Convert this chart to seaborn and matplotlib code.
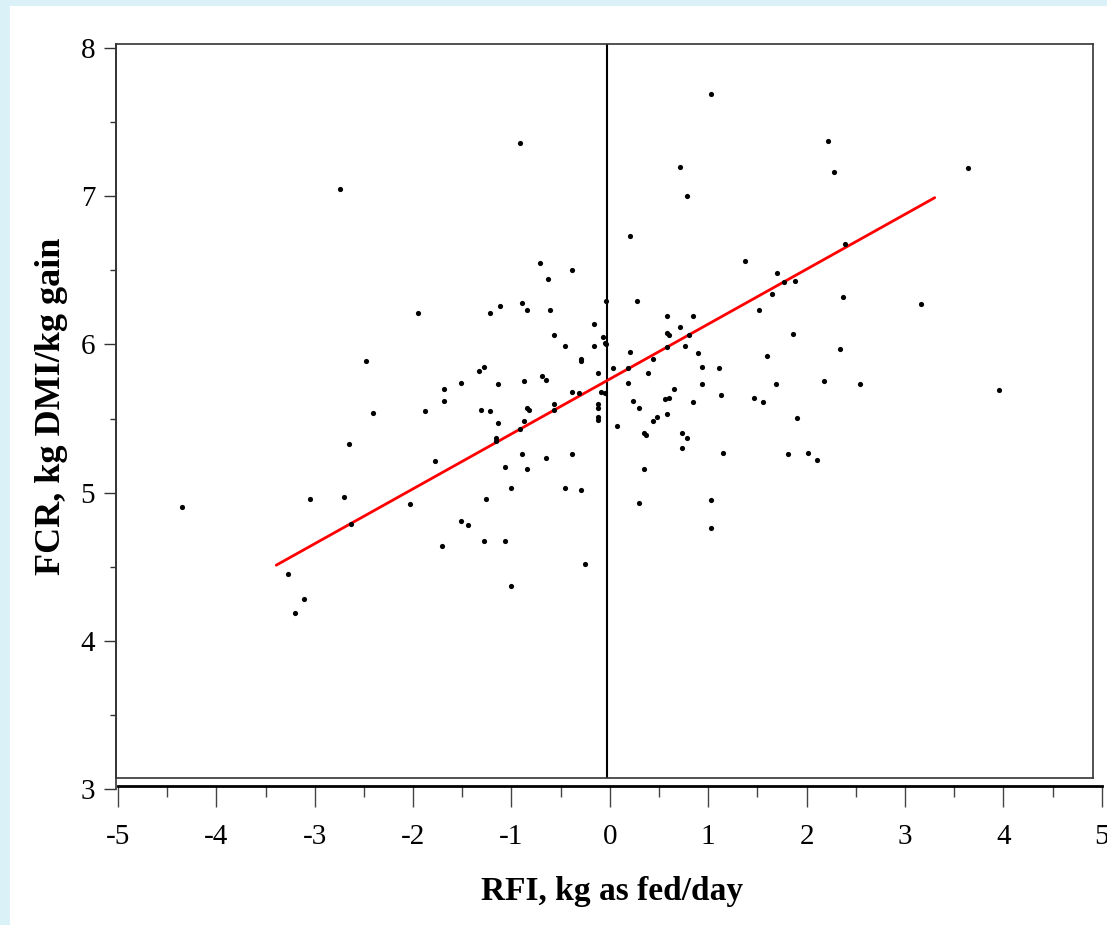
import numpy as np
import pandas as pd
import matplotlib
matplotlib.use("Agg")
import matplotlib.pyplot as plt
from matplotlib.patches import Rectangle
from matplotlib.ticker import MultipleLocator
import seaborn as sns

# ---- data ----
rfi = [
    -2.72, -0.89, -0.69, -0.36, -0.60, -0.01, -1.93, -1.20, -1.09, -0.87, -0.82, -0.58,
    -0.14, -0.54, -0.05, -0.43, -0.14, -0.03, -0.01,
    -2.46, -1.26, -1.31, -0.27, -0.27, -0.67, -0.63, -0.10, -1.49, -1.11, -0.85, -1.66,
    -1.66, -0.36, -0.29, -0.07, -0.03, -2.39, -1.86, -1.29, -1.20, -0.82, -0.80, -0.54,
    -0.54, -0.10, -0.10, -0.10, -0.10, -1.11, -0.85, -0.89, -1.13, -1.13, -2.63, -1.75,
    -0.87, -0.63, -0.36, -1.04, -0.82, -0.98, -0.43, -0.27, -4.33, -3.03, -2.68, -2.01,
    -1.24, -2.61, -1.49, -1.42, -1.68, -1.26, -1.04, -0.23, -3.25, -3.09, -3.18, -0.98,
    1.05, 2.24, 3.67, 0.74, 2.31, 0.81, 0.23, 2.42, 1.40, 1.73, 1.80, 1.91, 1.67, 2.40,
    3.19, 0.30, 1.54, 0.61, 0.87, 0.74, 1.89, 0.61, 0.63, 0.83, 0.79, 0.61, 2.37,
    0.23, 0.92, 1.62, 0.46, 0.06, 0.21, 0.96, 1.14, 0.41, 0.21, 0.96, 1.71, 2.20, 2.57,
    3.98, 0.68, 1.16, 0.59, 0.63, 0.26, 0.87, 1.49, 1.58, 0.32, 0.61, 0.50, 0.46, 1.93,
    0.10, 0.37, 0.39, 0.76, 0.81, 0.76, 1.18, 1.84, 2.04, 2.13, 0.37, 1.05, 0.32, 1.05,
]
fcr = [
    7.05, 7.36, 6.55, 6.50, 6.44, 6.29, 6.21, 6.21, 6.26, 6.28, 6.23, 6.23,
    6.14, 6.06, 6.05, 5.99, 5.99, 6.01, 6.00,
    5.89, 5.85, 5.82, 5.90, 5.89, 5.79, 5.76, 5.81, 5.74, 5.73, 5.75, 5.70,
    5.62, 5.68, 5.67, 5.68, 5.67, 5.54, 5.55, 5.56, 5.55, 5.57, 5.56, 5.60,
    5.56, 5.60, 5.57, 5.51, 5.49, 5.47, 5.48, 5.43, 5.37, 5.35, 5.33, 5.21,
    5.26, 5.23, 5.26, 5.17, 5.16, 5.03, 5.03, 5.02, 4.90, 4.96, 4.97, 4.92,
    4.96, 4.79, 4.81, 4.78, 4.64, 4.67, 4.67, 4.52, 4.45, 4.28, 4.19, 4.37,
    7.69, 7.37, 7.19, 7.20, 7.16, 7.00, 6.73, 6.68, 6.56, 6.48, 6.42, 6.43, 6.34, 6.32,
    6.27, 6.29, 6.23, 6.19, 6.19, 6.12, 6.07, 6.08, 6.06, 6.06, 5.99, 5.98, 5.97,
    5.95, 5.94, 5.92, 5.90, 5.84, 5.84, 5.85, 5.84, 5.81, 5.74, 5.73, 5.73, 5.75, 5.73,
    5.69, 5.70, 5.66, 5.63, 5.64, 5.62, 5.61, 5.64, 5.61, 5.57, 5.53, 5.51, 5.48, 5.50,
    5.45, 5.40, 5.39, 5.40, 5.37, 5.30, 5.27, 5.26, 5.27, 5.22, 5.16, 4.95, 4.93, 4.76,
]
fit_x = [-3.37, 3.33]
fit_y = [4.51, 6.99]

x_ticks = [-5, -4, -3, -2, -1, 0, 1, 2, 3, 4, 5]
y_ticks = [3, 4, 5, 6, 7, 8]
x_label = "RFI, kg as fed/day"
y_label = "FCR, kg DMI/kg gain"

df = pd.DataFrame({"RFI": rfi, "FCR": fcr})
fit_df = pd.DataFrame({"RFI": fit_x, "FCR": fit_y})

sns.set_theme(style="white")
plt.rcParams["font.family"] = ["Liberation Serif", "DejaVu Serif"]
plt.rcParams["text.color"] = "black"
plt.rcParams["axes.labelcolor"] = "black"
plt.rcParams["xtick.labelcolor"] = "black"
plt.rcParams["ytick.labelcolor"] = "black"

W, H = 1107, 925
fig = plt.figure(figsize=(W / 100, H / 100), dpi=100, facecolor="white")

# light blue frame at left and top edges
fig.patches.append(Rectangle((0, 0), 10 / W, 1, transform=fig.transFigure,
                             facecolor="#daf1f8", edgecolor="none", zorder=0))
fig.patches.append(Rectangle((0, 1 - 6 / H), 1, 6 / H, transform=fig.transFigure,
                             facecolor="#daf1f8", edgecolor="none", zorder=0))

def fx(px):
    return px / W

def fy(py):
    return (H - py) / H

# main boxed plotting area
ax = fig.add_axes([fx(116), fy(778), fx(1093) - fx(116), fy(44) - fy(778)])
ax.set_xlim(-5.0, 4.94)
ax.set_ylim(3.074, 8.027)
ax.set_facecolor("white")
for s in ax.spines.values():
    s.set_visible(True)
    s.set_color("#333333")
    s.set_linewidth(1.2)
ax.set_xticks([])
ax.set_yticks([])

ax.axvline(0, color="black", lw=1.5, zorder=1)
sns.lineplot(data=fit_df, x="RFI", y="FCR", ax=ax, color="#ff0000", lw=2, zorder=2)
sns.scatterplot(data=df, x="RFI", y="FCR", ax=ax, color="black", s=14,
                linewidth=0, zorder=3)
ax.set_xlabel("")
ax.set_ylabel("")

# y axis (ticks and labels)
ay = fig.add_axes([fx(116), fy(789), 0.001, fy(44) - fy(789)])
ay.set_ylim(3.0, 8.027)
ay.patch.set_visible(False)
for k, s in ay.spines.items():
    s.set_visible(k == "left")
ay.spines["left"].set_color("#333333")
ay.spines["left"].set_linewidth(1.2)
ay.set_xticks([])
ay.set_yticks(y_ticks)
ay.yaxis.set_minor_locator(MultipleLocator(0.5))
ay.tick_params(axis="y", which="major", direction="out", length=9, width=1.0,
               color="#333333", labelsize=21, pad=6, left=True, labelcolor="black")
ay.tick_params(axis="y", which="minor", direction="out", length=4, width=1.0,
               color="#333333", left=True)
ay.set_ylabel(y_label, fontsize=26, fontweight="bold", color="black")
ay.yaxis.set_label_coords(fx(68), fy(406), transform=fig.transFigure)

# separate x axis below the box
axx = fig.add_axes([fx(118), fy(786), fx(1101.7) - fx(118), 0.001])
axx.set_xlim(-5, 5)
axx.patch.set_visible(False)
for k, s in axx.spines.items():
    s.set_visible(k == "bottom")
axx.spines["bottom"].set_color("black")
axx.spines["bottom"].set_linewidth(2)
axx.set_yticks([])
axx.set_xticks(x_ticks)
axx.set_xticklabels([str(t) for t in x_ticks])
axx.xaxis.set_minor_locator(MultipleLocator(0.5))
axx.tick_params(axis="x", which="major", direction="out", length=15, width=1.0,
                color="#444444", labelsize=21, pad=12, bottom=True, labelcolor="black")
axx.tick_params(axis="x", which="minor", direction="out", length=8, width=1.0,
                color="#444444", bottom=True)
axx.set_xlabel(x_label, fontsize=24, fontweight="bold", color="black")
axx.xaxis.set_label_coords(fx(612), fy(876), transform=fig.transFigure)

fig.savefig("out.png", dpi=100, facecolor="white")
